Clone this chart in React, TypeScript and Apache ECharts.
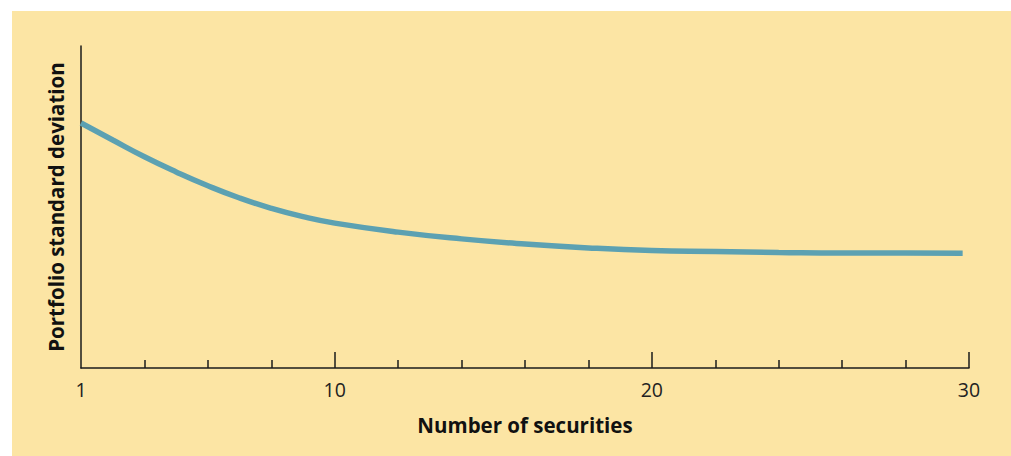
import React, { useEffect, useRef } from "react";
import * as echarts from "echarts";

// x positions on the axis scale (label "1" sits at axis value 2)
const xValues = [2, 3, 4, 5, 6, 7, 8, 9, 10, 12, 14, 16, 18, 20, 22, 24, 26, 28, 29.8];
const stdDev = [76.1, 70.8, 65.6, 60.9, 56.6, 52.8, 49.6, 47.0, 45.0, 42.2, 40.1, 38.5, 37.3, 36.5, 36.2, 35.9, 35.7, 35.7, 35.6];
const minorTicks = [4, 6, 8, 12, 14, 16, 18, 22, 24, 26, 28];
const majorTicks = [10, 20, 30];
const labelValues = [2, 10, 20, 30];
const labelText: Record<number, string> = { 2: "1", 10: "10", 20: "20", 30: "30" };

export default function App() {
  const ref = useRef<HTMLDivElement>(null);
  useEffect(() => {
    if (!ref.current) return;
    const chart = echarts.init(ref.current, undefined, { renderer: "svg" });
    const axisColor = "#1b1b1b";
    chart.setOption({
      animation: false,
      backgroundColor: "#ffffff",
      textStyle: { fontFamily: "Open Sans" },
      graphic: [
        {
          type: "rect",
          z: -10,
          silent: true,
          shape: { x: 12, y: 11, width: 999, height: 445 },
          style: { fill: "#fce5a4" },
        },
      ],
      grid: { left: 81, right: 42, top: 46, bottom: 88 },
      xAxis: [
        {
          type: "value",
          min: 2,
          max: 30,
          name: "Number of securities",
          nameLocation: "middle",
          nameGap: 46,
          nameTextStyle: { fontFamily: "Open Sans", fontWeight: "bold", fontSize: 20.5, color: "#111" },
          axisLine: { show: true, lineStyle: { color: axisColor, width: 1.5 } },
          axisTick: { show: true, inside: true, length: 8, customValues: minorTicks, lineStyle: { color: axisColor, width: 1.5 } },
          axisLabel: {
            show: true,
            customValues: labelValues,
            formatter: (v: number) => labelText[v] ?? "",
            fontFamily: "Open Sans",
            fontSize: 19.5,
            color: "#222",
            margin: 11,
          },
          splitLine: { show: false },
        },
        {
          type: "value",
          min: 2,
          max: 30,
          position: "bottom",
          axisLine: { show: false },
          axisTick: { show: true, inside: true, length: 16, customValues: majorTicks, lineStyle: { color: axisColor, width: 1.5 } },
          axisLabel: { show: false },
          splitLine: { show: false },
        },
      ],
      yAxis: {
        type: "value",
        min: 0,
        max: 100,
        name: "Portfolio standard deviation",
        nameLocation: "middle",
        nameGap: 15,
        nameTextStyle: { fontFamily: "Open Sans", fontWeight: "bold", fontSize: 20.5, color: "#111" },
        axisLine: { show: true, lineStyle: { color: axisColor, width: 1.5 } },
        axisTick: { show: false },
        axisLabel: { show: false },
        splitLine: { show: false },
      },
      series: [
        {
          type: "line",
          smooth: true,
          symbol: "none",
          data: xValues.map((x, i) => [x, stdDev[i]]),
          lineStyle: { color: "#5ca1b2", width: 5.5, cap: "butt" },
        },
      ],
    });
    return () => chart.dispose();
  }, []);
  return (
    <div style={{ position: "fixed", left: 0, top: 0, width: 1011, height: 456 }}>
      <div ref={ref} style={{ width: 1011, height: 456 }} />
    </div>
  );
}
